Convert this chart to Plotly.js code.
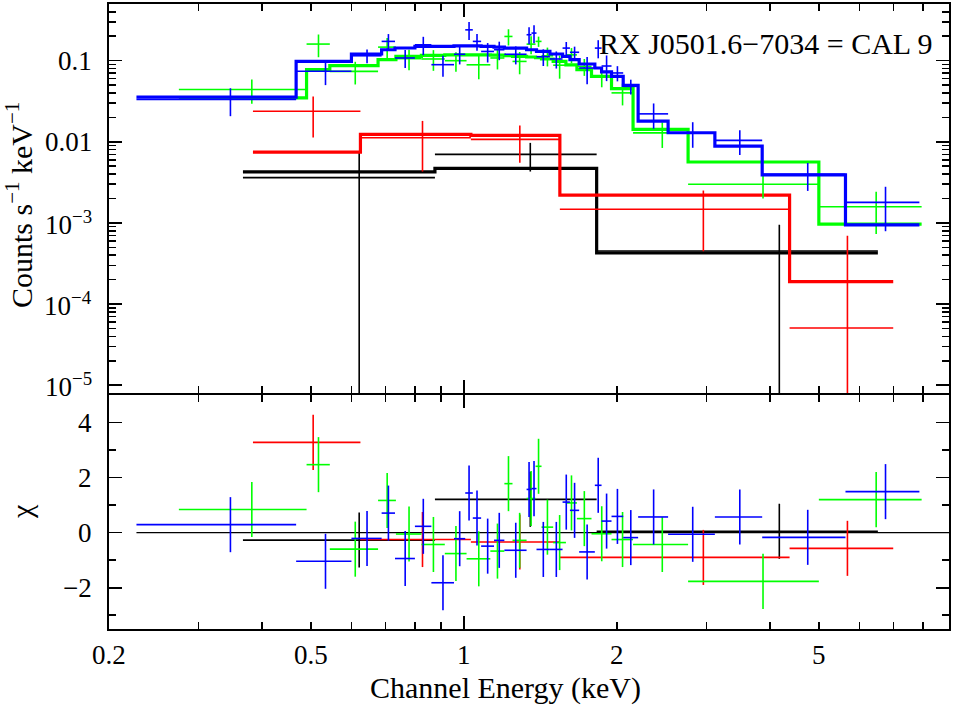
<!DOCTYPE html>
<html>
<head>
<meta charset="utf-8">
<script src="https://cdn.plot.ly/plotly-3.0.1.min.js"></script>
<style>html,body{margin:0;padding:0;background:#fff;}#plot{width:956px;height:706px;}
#plot text, #plot tspan{font-family:'Liberation Serif' !important;}</style>
</head>
<body>
<div id="plot"></div>
<script>
// ---------------- data ----------------
// black dataset
const k_lo    = [0.367, 0.876, 1.823];
const k_hiEnd = 6.52;
const k_data  = [0.00362, 0.0070, 0.00045];
const k_err   = [0.0037, 0.0027, 0.0005];
const k_model = [0.00425, 0.00471, 0.000426];
const k_chi   = [-0.27, 1.21, 0.05];

// red dataset
const r_lo    = [0.384, 0.625, 1.031, 1.543, 4.37];
const r_hiEnd = 6.99;
const r_data  = [0.0238, 0.0112, 0.0107, 0.001477, 0.0000506];
const r_err   = [0.0125, 0.0069, 0.0052, 0.00103, 0.000645];
const r_model = [0.00747, 0.01233, 0.0120, 0.0022, 0.000189];
const r_chi   = [3.28, -0.25, -0.34, -0.9, -0.57];

// green dataset
const g_lo    = [0.2745,0.4896,0.544,0.677,0.734,0.824,0.916,1.011,1.126,1.200,1.245,1.327,1.382,1.420,1.497,1.586,1.667,1.781,1.950,2.150,2.759,4.990];
const g_hiEnd = 7.95;
const g_data  = [0.0441,0.1603,0.0739,0.147,0.106,0.105,0.100,0.089,0.108,0.199,0.098,0.160,0.173,0.115,0.088,0.118,0.085,0.063,0.0401,0.0129,0.0030,0.00158];
const g_err   = [0.0147,0.050,0.023,0.043,0.030,0.030,0.027,0.030,0.030,0.045,0.030,0.040,0.025,0.030,0.028,0.025,0.020,0.016,0.012,0.0045,0.0010,0.00085];
const g_model = [0.0348,0.0775,0.0868,0.1029,0.113,0.116,0.118,0.118,0.117,0.115,0.113,0.111,0.109,0.105,0.098,0.089,0.0775,0.064,0.0453,0.0142,0.00564,0.000966];
const g_chi   = [0.84,2.47,-0.6,1.17,-0.05,-0.43,-0.76,-0.95,-0.67,1.78,-0.28,1.24,2.41,0.2,-0.36,1.08,0.51,-0.04,-0.25,-0.43,-1.77,1.2];

// blue dataset
const b_lo    = [0.2265,0.467,0.600,0.688,0.731,0.800,0.862,0.955,1.005,1.040,1.080,1.145,1.200,1.327,1.357,1.388,1.475,1.562,1.615,1.684,1.808,1.864,1.950,2.056,2.200,2.520,3.115,3.860,5.630];
const b_hiEnd = 7.87;
const b_data  = [0.0332,0.074,0.115,0.173,0.108,0.157,0.0893,0.120,0.240,0.173,0.130,0.1365,0.120,0.209,0.219,0.112,0.105,0.143,0.127,0.0813,0.143,0.086,0.0706,0.0483,0.0221,0.01294,0.0104,0.00398,0.00179];
const b_err   = [0.0125,0.024,0.022,0.040,0.027,0.040,0.026,0.030,0.060,0.040,0.035,0.035,0.030,0.050,0.055,0.026,0.025,0.027,0.022,0.030,0.036,0.030,0.015,0.010,0.0076,0.0045,0.0035,0.0015,0.0010];
const b_model = [0.0355,0.098,0.121,0.1365,0.1433,0.1498,0.150,0.152,0.152,0.152,0.150,0.147,0.143,0.1365,0.1365,0.130,0.121,0.113,0.1028,0.091,0.0813,0.0726,0.0642,0.0497,0.01796,0.01294,0.00885,0.0039,0.000948];
const b_chi   = [0.29,-1.04,-0.21,0.71,-0.94,0.23,-1.82,-0.22,1.44,0.53,-0.49,-0.28,-0.64,1.57,1.6,-0.61,-0.61,1.11,0.81,-0.7,1.72,0.42,0.59,-0.18,0.57,-0.06,0.57,-0.17,1.49];

// axis ticks
const xTickVals  = [0.2, 0.5, 1, 2, 5];
const xTickText  = ['0.2', '0.5', '1', '2', '5'];
const xMajorVals = [1];
const xMinorVals = [0.3,0.4,0.5,0.6,0.7,0.8,0.9,2,3,4,5,6,7,8,9];
const yTickVals  = [0.1, 0.01, 1e-3, 1e-4, 1e-5];
const yTickText  = ['0.1', '0.01', '10<sup>−3</sup>', '10<sup>−4</sup>', '10<sup>−5</sup>'];
const rTickVals  = [-2, 0, 2, 4];
const rTickText  = ['−2', '0', '2', '4'];
const rMinorVals = [-3, -1, 1, 3];
const xRange = [0.2, 9];
const yRange = [8e-6, 0.5];
const rRange = [-3.5, 5];

// ---------------- build traces ----------------
const yMinor = [];
[1e-5, 1e-4, 1e-3, 1e-2, 1e-1].forEach(d => { for (let m = 2; m <= 9; m++) yMinor.push(d * m); });

const sets = [
  {lo: k_lo, hiEnd: k_hiEnd, data: k_data, err: k_err, model: k_model, chi: k_chi, color: '#000000'},
  {lo: r_lo, hiEnd: r_hiEnd, data: r_data, err: r_err, model: r_model, chi: r_chi, color: '#ff0000'},
  {lo: g_lo, hiEnd: g_hiEnd, data: g_data, err: g_err, model: g_model, chi: g_chi, color: '#00ff00'},
  {lo: b_lo, hiEnd: b_hiEnd, data: b_data, err: b_err, model: b_model, chi: b_chi, color: '#0000ff'}
];

const traces = [];
// zero line of the residual panel
traces.push({x: [b_lo[0], xRange[1]], y: [0, 0], xaxis: 'x', yaxis: 'y', mode: 'lines',
  line: {color: '#000', width: 1.3}, hoverinfo: 'skip', showlegend: false});

sets.forEach(s => {
  const hi = s.lo.slice(1).concat([s.hiEnd]);
  const cen = s.lo.map((l, i) => (l + hi[i]) / 2);
  const ep = cen.map((c, i) => hi[i] - c);
  const em = cen.map((c, i) => c - s.lo[i]);
  const ex = {type: 'data', symmetric: false, array: ep, arrayminus: em, width: 0, thickness: 1.6, color: s.color};
  // data crosses (upper)
  traces.push({x: cen, y: s.data, xaxis: 'x2', yaxis: 'y2', mode: 'markers',
    marker: {size: 2, color: s.color, opacity: 0}, showlegend: false,
    error_x: ex,
    error_y: {type: 'data', array: s.err, width: 0, thickness: 1.6, color: s.color}});
  // model step (upper)
  traces.push({x: s.lo.concat([s.hiEnd]), y: s.model.concat([s.model[s.model.length - 1]]),
    xaxis: 'x2', yaxis: 'y2', mode: 'lines', line: {shape: 'hv', color: s.color, width: 3.2}, showlegend: false});
  // residuals (lower), error of one sigma
  traces.push({x: cen, y: s.chi, xaxis: 'x', yaxis: 'y', mode: 'markers',
    marker: {size: 2, color: s.color, opacity: 0}, showlegend: false,
    error_x: ex,
    error_y: {type: 'constant', value: 1, width: 0, thickness: 1.6, color: s.color}});
});

const FAM = 'Liberation Serif';
const TICK_SIZE = 27;
function mkFont(sz) { return {family: FAM, size: sz, color: '#000'}; }
function axis(extra) {
  return Object.assign({showline: true, linewidth: 2, linecolor: '#000', mirror: 'allticks', ticks: 'inside',
    tickwidth: 1.6, tickcolor: '#000', showgrid: false, zeroline: false, showticklabels: false}, extra);
}
function minor(vals) { return {tickmode: 'array', tickvals: vals, ticklen: 7, ticks: 'inside', tickwidth: 1.6, tickcolor: '#000'}; }

// tick labels drawn as text annotations tied to the axes
const tickAnn = [];
xTickVals.forEach((v, i) => tickAnn.push({text: xTickText[i], xref: 'x', yref: 'paper', x: Math.log10(v), y: 0,
  yshift: -26, xanchor: 'center', yanchor: 'middle', showarrow: false, font: mkFont(TICK_SIZE)}));
yTickVals.forEach((v, i) => tickAnn.push({text: yTickText[i], xref: 'paper', yref: 'y2', x: 0, y: Math.log10(v),
  xshift: -15, xanchor: 'right', yanchor: 'middle', showarrow: false, font: mkFont(TICK_SIZE)}));
rTickVals.forEach((v, i) => tickAnn.push({text: rTickText[i], xref: 'paper', yref: 'y', x: 0, y: v,
  xshift: -15, xanchor: 'right', yanchor: 'middle', showarrow: false, font: mkFont(TICK_SIZE)}));

const lowerTop = 234 / 625, upperBottom = 236 / 625;
const layout = {
  width: 956, height: 706,
  margin: {l: 109, r: 7, t: 4, b: 77},
  paper_bgcolor: '#fff', plot_bgcolor: '#fff',
  font: mkFont(TICK_SIZE),
  showlegend: false,
  xaxis: axis({type: 'log', range: xRange.map(Math.log10), anchor: 'y', domain: [0, 1],
    tickmode: 'array', tickvals: xMajorVals, ticklen: 13, minor: minor(xMinorVals)}),
  xaxis2: axis({type: 'log', range: xRange.map(Math.log10), anchor: 'y2', matches: 'x',
    tickmode: 'array', tickvals: xMajorVals, ticklen: 13, minor: minor(xMinorVals)}),
  yaxis: axis({range: rRange, domain: [0, lowerTop], anchor: 'x',
    tickmode: 'array', tickvals: rTickVals, ticklen: 13, minor: minor(rMinorVals)}),
  yaxis2: axis({type: 'log', range: yRange.map(Math.log10), domain: [upperBottom, 1], anchor: 'x2',
    tickmode: 'array', tickvals: yTickVals, ticklen: 13, minor: minor(yMinor)}),
  annotations: tickAnn.concat([
    {text: 'RX J0501.6−7034 = CAL 9', xref: 'paper', yref: 'paper', x: (935 - 109) / 840, y: (629 - 44) / 625,
      xanchor: 'right', yanchor: 'middle', showarrow: false, font: mkFont(30)},
    {text: 'Counts s<sup>−1</sup> keV<sup>−1</sup>', xref: 'paper', yref: 'paper', x: (19 - 109) / 840, y: (629 - 205) / 625,
      xanchor: 'center', yanchor: 'middle', textangle: -90, showarrow: false, font: mkFont(30)},
    {text: 'χ', xref: 'paper', yref: 'paper', x: (21 - 109) / 840, y: (629 - 512) / 625,
      xanchor: 'center', yanchor: 'middle', textangle: -90, showarrow: false, font: mkFont(30)},
    {text: 'Channel Energy (keV)', xref: 'paper', yref: 'paper', x: (505 - 109) / 840, y: (629 - 688) / 625,
      xanchor: 'center', yanchor: 'middle', showarrow: false, font: mkFont(30)}
  ])
};

Plotly.newPlot('plot', traces, layout, {staticPlot: true, displayModeBar: false});
</script>
</body>
</html>
